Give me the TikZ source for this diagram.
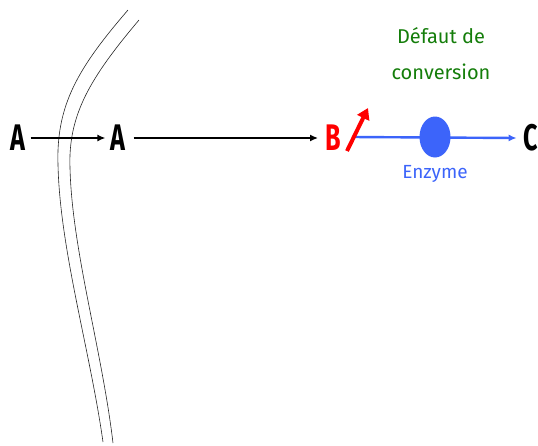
\documentclass[tikz,border=0pt]{standalone}
\usepackage{fontspec}
\setmainfont{Fira Sans}
\usetikzlibrary{arrows.meta,shapes.geometric}
\definecolor{enzblue}{RGB}{60,100,250}
\definecolor{defgreen}{RGB}{20,125,10}
\tikzset{
  mol/.style={font=\bfseries\fontsize{37}{37}\selectfont, inner sep=0pt, xscale=0.68},
  memb/.style={line width=0.6pt, black!85},
  flow/.style={line width=1.6pt, -{Latex[length=8pt,width=7pt]}},
}
\begin{document}
\begin{tikzpicture}[x=1pt,y=-1pt]
\useasboundingbox (0,0) rectangle (538,445);
% membrane
\draw[memb] (128,10) .. controls (78,68) and (56,105) .. (58,165) .. controls (60,250) and (90,350) .. (103,442);
\draw[memb] (139,20) .. controls (90,78) and (68,115) .. (70,168) .. controls (72,250) and (102,350) .. (113,443);
% molecules
\node[mol] (a1) at (18,138) {A};
\node[mol] (a2) at (118,138) {A};
\node[mol, text=red] (b) at (333,138) {B};
\node[mol] (c) at (531,138) {C};
\draw[flow] ([xshift=5pt]a1.east) -- ([xshift=-5pt]a2.west);
\draw[flow] ([xshift=8pt]a2.east) -- ([xshift=-7pt]b.west);
\coordinate (bstart) at (352,137);
\draw[flow, enzblue, line width=2.4pt] (bstart) -- ([xshift=-7pt]c.west);
\node[fill=enzblue, ellipse, minimum width=31pt, minimum height=41pt, inner sep=0pt] (enz) at (435,137) {};
\node[text=enzblue, font=\fontsize{19}{19}\selectfont] (enzlab) at (435,174) {Enzyme};
% red arrow
\coordinate (r1) at (347,151);
\coordinate (r2) at (368,108);
\draw[red, line width=4pt, -{Triangle[length=11pt,width=13pt]}] (r1) -- (r2);
% label
\node[text=defgreen, font=\fontsize{20}{36}\selectfont, align=center] (def) at (441,54) {Défaut de\\conversion};
\end{tikzpicture}
\end{document}
